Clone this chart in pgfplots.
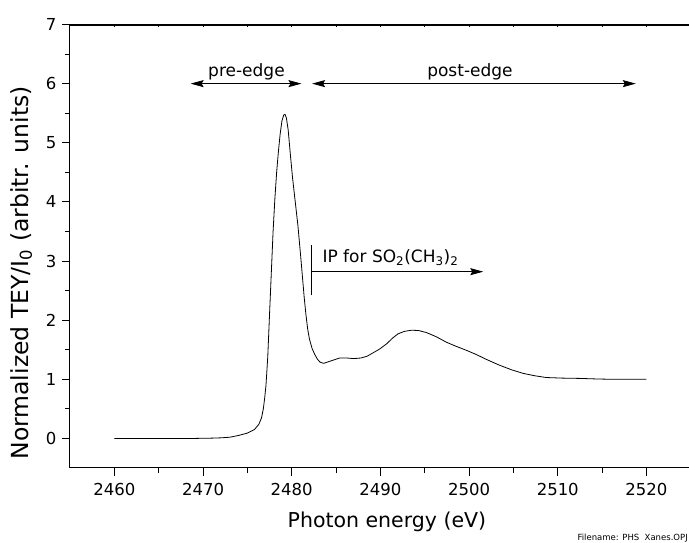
\documentclass[border=0pt]{standalone}
\usepackage{fontspec}
\setmainfont{DejaVu Sans}
\usepackage{pgfplots}
\pgfplotsset{compat=1.18}
\usetikzlibrary{arrows.meta}

\begin{document}
\begin{tikzpicture}
\begin{axis}[
  at={(0pt,0pt)}, anchor=south west,
  scale only axis, width=619pt, height=443.5pt,
  xmin=2455, xmax=2524.8, ymin=-0.5, ymax=7,
  axis x line*=bottom, axis y line*=left,
  xtick={2460,2470,...,2520}, ytick={0,1,...,7},
  minor x tick num=1, minor y tick num=1,
  tick align=outside,
  major tick length=8pt, minor tick length=5pt,
  every tick/.style={black, line width=0.9pt},
  axis line style={line width=1pt},
  /pgf/number format/assume math mode=true,
  /pgf/number format/1000 sep={},
  tick label style={font=\fontsize{16.5}{19}\selectfont},
  xticklabel style={yshift=-4pt},
  yticklabel style={xshift=-2pt},
  xlabel={Photon energy (eV)},
  ylabel={Normalized TEY/I\textsubscript{0} (arbitr. units)},
  xlabel style={font=\fontsize{20.5}{24}\selectfont, at={(axis description cs:0.512,-0.122)}, anchor=center},
  ylabel style={font=\fontsize{23.5}{27}\selectfont, at={(axis description cs:-0.079,0.44)}, anchor=center},
  clip=false,
]
\addplot[black, line width=0.8pt] coordinates {
(2460,0) (2463,0) (2466,0) (2469,0) (2471,0.005) (2472,0.01) (2473,0.02)
(2474,0.05) (2475,0.09) (2475.8,0.15) (2476.3,0.24) (2476.6,0.35) (2476.8,0.5)
(2476.95,0.68) (2477.1,0.9) (2477.3,1.38) (2477.5,2.1) (2477.7,2.8) (2477.9,3.5)
(2478.1,4.05) (2478.3,4.5) (2478.5,4.85) (2478.7,5.15) (2478.9,5.37) (2479.1,5.47)
(2479.25,5.48) (2479.4,5.42) (2479.6,5.22) (2479.85,4.8) (2480.1,4.4) (2480.4,4.0)
(2480.7,3.6) (2481.0,3.1) (2481.2,2.75) (2481.4,2.4) (2481.6,2.1) (2481.8,1.85)
(2482.0,1.68) (2482.3,1.52) (2482.6,1.42) (2482.9,1.34) (2483.2,1.29) (2483.6,1.27)
(2484.0,1.29) (2484.6,1.32) (2485.4,1.36) (2486.2,1.36) (2487.0,1.35) (2487.8,1.36)
(2488.5,1.39) (2489.2,1.45) (2489.9,1.51) (2490.7,1.6) (2491.4,1.7) (2492.0,1.77)
(2492.7,1.81) (2493.5,1.83) (2494.3,1.825) (2495.2,1.79) (2496.3,1.72) (2497.4,1.63)
(2498.5,1.56) (2499.7,1.49) (2500.8,1.42) (2501.9,1.34) (2503.4,1.24) (2504.8,1.16)
(2506.1,1.10) (2507.4,1.06) (2508.7,1.03) (2510.5,1.02) (2512.5,1.015) (2514.5,1.005)
(2516.2,1.0) (2518,1.0) (2520,1.0)
};
% small ticks on the top edge
\pgfplotsinvokeforeach{2460,2465,...,2520}{
  \draw[line width=1pt] (axis cs:#1,7) -- ++(0pt,-2pt);
}
% annotations
\draw[line width=0.8pt, {Stealth[length=13pt,width=7pt,inset=2pt]}-{Stealth[length=13pt,width=7pt,inset=2pt]}]
  (axis cs:2468.6,6) -- (axis cs:2481.1,6);
\draw[line width=0.8pt, {Stealth[length=13pt,width=7pt,inset=2pt]}-{Stealth[length=13pt,width=7pt,inset=2pt]}]
  (axis cs:2482.3,6) -- (axis cs:2518.8,6);
\node[font=\fontsize{17}{20}\selectfont, anchor=base] at (axis cs:2474.9,6.12) {pre-edge};
\node[font=\fontsize{17}{20}\selectfont, anchor=base] at (axis cs:2500.1,6.12) {post-edge};
\draw[line width=0.8pt] (axis cs:2482.2,2.42) -- (axis cs:2482.2,3.27);
\draw[line width=0.8pt, -{Stealth[length=13pt,width=7pt,inset=2pt]}] (axis cs:2482.2,2.82) -- (axis cs:2501.6,2.82);
\node[font=\fontsize{17}{20}\selectfont, anchor=base west, inner sep=0pt] at (axis cs:2483.46,2.976) {IP for SO\textsubscript{2}(CH\textsubscript{3})\textsubscript{2}};
\end{axis}
% top frame line of the axis box
\draw[line width=1.2pt] (-0.5pt,443pt) -- (619pt,443pt);
\node[font=\fontsize{8.5}{10}\selectfont, anchor=base east, inner sep=0pt] at (618pt,-73pt) {Filename: PHS\ \ Xanes.OPJ};
\pgfresetboundingbox
\path[use as bounding box] (-70pt,-75pt) rectangle (619pt,468pt);
\end{tikzpicture}
\end{document}
